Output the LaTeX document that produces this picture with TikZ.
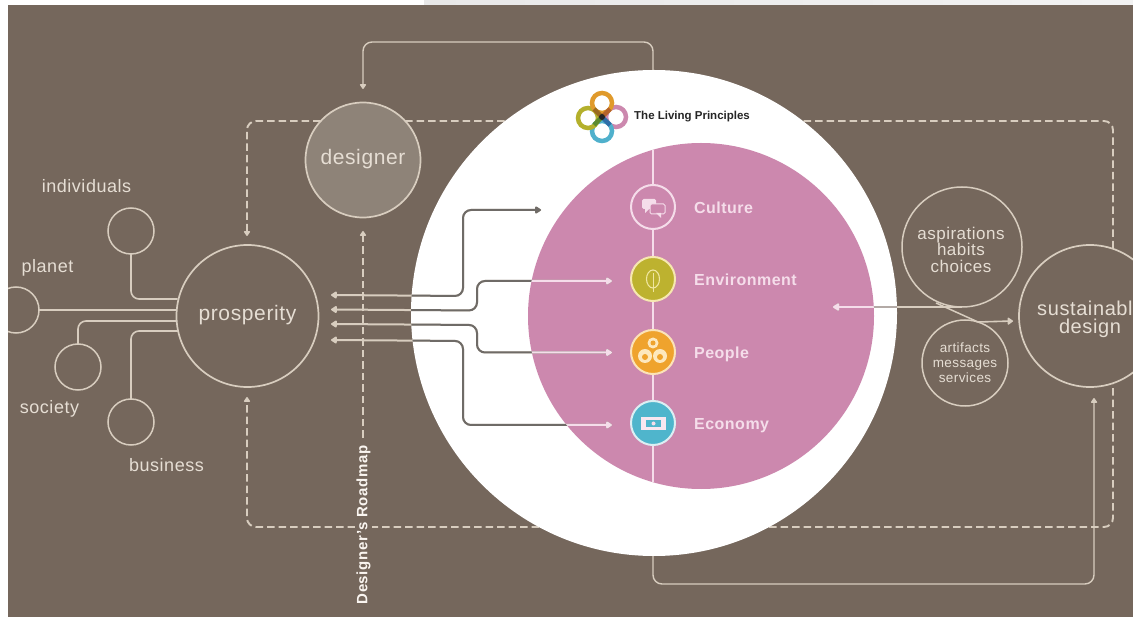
\documentclass[tikz,border=0pt]{standalone}
\usepackage{fontspec}
\setmainfont{Liberation Sans}
\newfontfamily\spaced[LetterSpace=3]{Liberation Sans}
\usetikzlibrary{arrows.meta}
\normallineskiplimit=-20pt
\lineskiplimit=-20pt
\definecolor{brownbg}{HTML}{75675C}
\definecolor{beige}{HTML}{D8CDBF}
\definecolor{txt}{HTML}{E6DED4}
\definecolor{pinkc}{HTML}{CC88AE}
\definecolor{palep}{HTML}{F5DDEA}
\definecolor{darkl}{HTML}{6F6B67}
\definecolor{midl}{HTML}{B3AAA6}
\definecolor{lteal}{HTML}{4FB0CC}
\definecolor{lolive}{HTML}{B4B02C}
\definecolor{lorange}{HTML}{E09A2B}
\definecolor{ovne}{HTML}{B5642B}
\definecolor{ovnw}{HTML}{9A6A20}
\definecolor{ovse}{HTML}{2E6EA8}
\definecolor{ovsw}{HTML}{5C8A2E}
\definecolor{envring}{HTML}{F6E8B0}
\definecolor{envfill}{HTML}{BDB22F}
\definecolor{envicon}{HTML}{F0E6A0}
\definecolor{pplring}{HTML}{FBE3B8}
\definecolor{pplfill}{HTML}{EFA32D}
\definecolor{pplicon}{HTML}{FDE8BE}
\definecolor{ecoring}{HTML}{DCEFF3}
\definecolor{ecofill}{HTML}{4FB5CC}
\definecolor{desfill}{HTML}{8E8378}
\pgfdeclarelayer{bg}\pgfdeclarelayer{under}
\pgfsetlayers{bg,under,main}
\newcommand{\tricolor}[3]{%
  \draw[arrowline,beige,#1] #3;
  \begin{scope}\clip (654,313) circle (243);\draw[arrowline,#2,#1] #3;\end{scope}
  \begin{scope}\clip (701,316) circle (173);\draw[arrowline,palep,#1] #3;\end{scope}
}
\tikzset{
  ring/.style={circle,draw=beige,line width=1.7pt,inner sep=0,outer sep=0,fill=brownbg},
  smallring/.style={circle,draw=beige,line width=1.5pt,inner sep=0,outer sep=0,minimum size=46pt},
  lab/.style={text=txt,font=\fontsize{18}{18}\selectfont\spaced,inner sep=0},
  bigtext/.style={text=txt,font=\fontsize{21}{21}\selectfont\spaced,inner sep=0},
  theme/.style={text=palep,font=\fontsize{16}{16}\selectfont\spaced\bfseries,inner sep=0,anchor=base west},
  badge/.style={circle,line width=2pt,inner sep=0,outer sep=0,minimum size=44pt},
  link/.style={draw=beige,line width=1.6pt,rounded corners=8pt},
  dashline/.style={draw=beige,line width=1.9pt,dash pattern=on 7.5pt off 4pt,rounded corners=9pt},
  thinline/.style={draw=beige,line width=1.4pt,rounded corners=9pt},
  arrowline/.style={line width=2pt,rounded corners=8pt},
  dottip/.style={-{Triangle[round,length=5.5pt,width=7pt]}},
  bothtip/.style={{Triangle[round,length=6.5pt,width=8pt]}-{Triangle[round,length=6.5pt,width=8pt]}},
  lefttip/.style={{Triangle[round,length=7pt,width=8pt]}-},
  logoring/.style={circle,line width=4.5pt,minimum size=20pt,inner sep=0},
}
\begin{document}
\begin{tikzpicture}[x=1pt,y=-1pt]
\useasboundingbox (0,0) rectangle (1133,617);
\begin{pgfonlayer}{bg}
\fill[white] (0,0) rectangle (1133,617);
\shade[left color=gray!18,right color=gray!10] (424,0) rectangle (1133,6);
\fill[brownbg] (8,5) rectangle (1133,617);
\end{pgfonlayer}

% main circles
\node[circle,fill=white,minimum size=486pt,inner sep=0,outer sep=0] (white) at (654,313) {};
\node[circle,fill=pinkc,minimum size=346pt,inner sep=0,outer sep=0] (pink) at (701,316) {};
\coordinate (pt) at (653,150); \coordinate (pb) at (653,482);
\draw[palep,line width=1.3pt] (pt) -- (pb);

% logo
\node[logoring,draw=pinkc] (lr) at (616,117) {};
\node[logoring,draw=lteal] (lb) at (602,131) {};
\node[logoring,draw=lolive] (ll) at (588,118) {};
\node[logoring,draw=lorange] (lt) at (602,103) {};
\coordinate (lc) at (602,117);
\coordinate (lne) at (610,109); \coordinate (lnw) at (594,109);
\coordinate (lse) at (610,125); \coordinate (lsw) at (594,125);
\draw[line width=4.5pt,ovne] (lc) -- (lne);
\draw[line width=4.5pt,ovnw] (lc) -- (lnw);
\draw[line width=4.5pt,ovse] (lc) -- (lse);
\draw[line width=4.5pt,ovsw] (lc) -- (lsw);
\fill[black!85] (lc) circle (3);
\node[anchor=west,inner sep=0,text=black!85,font=\fontsize{11.5}{12}\selectfont\bfseries] (logotext) at (634,117) {The Living Principles};

% badges
\node[badge,draw=palep,fill=pinkc] (culture) at (653,207) {};
\node[badge,draw=envring,fill=envfill] (env) at (653,279) {};
\node[badge,draw=pplring,fill=pplfill] (people) at (653,352) {};
\node[badge,draw=ecoring,fill=ecofill] (economy) at (653,423) {};
% icons
\fill[palep,rounded corners=1.5pt] (642,199) rectangle (656,209);
\fill[palep] (645,208) -- (645,213) -- (650,208) -- cycle;
\draw[palep,fill=pinkc,line width=1pt,rounded corners=1.5pt] (650,204) rectangle (665,214);
\fill[palep] (661,213) -- (661,218) -- (656,213) -- cycle;
\draw[envicon,line width=1.1pt] (653,279) ellipse (6.5 and 9);
\draw[envicon,line width=1pt] (653,273) -- (653,292);
\fill[pplicon] (653,343) circle (5.5) (645,356) circle (7) (660,356) circle (7);
\fill[pplfill] (653,343) circle (2.5) (645,357) circle (3) (660,357) circle (3);
\fill[palep!70!white] (641,417) rectangle (666,430);
\fill[ecofill] (646,420) rectangle (661,427);
\fill[palep] (653.5,423.5) circle (2);

\node[theme] (tculture) at (694,214) {Culture};
\node[theme] (tenv) at (694,286) {Environment};
\node[theme] (tpeople) at (694,359) {People};
\node[theme] (teco) at (694,430) {Economy};

% designer and prosperity
\node[ring,fill=desfill,minimum size=115pt] (designer) at (363,160) {};
\node[bigtext] (tdesigner) at (363,159) {designer};
\node[ring,minimum size=142pt] (prosperity) at (247.5,316) {};
\node[bigtext] (tprosperity) at (247.5,315.5) {prosperity};

% small circles
\begin{scope}
\clip (8,5) rectangle (1133,617);
\node[smallring] (planet) at (16,310) {};
\end{scope}
\node[smallring] (individuals) at (131,231) {};
\node[smallring] (society) at (78,367) {};
\node[smallring] (business) at (131,422) {};
\node[lab] (lindividuals) at (86.5,186) {individuals};
\node[lab] (lplanet) at (47.5,268) {planet};
\node[lab] (lsociety) at (49.5,409) {society};
\node[lab] (lbusiness) at (166.5,465) {business};

\coordinate (p1) at (177.5,299); \coordinate (p2) at (177,310);
\coordinate (p3) at (177,321); \coordinate (p4) at (178,331);
\draw[link] (individuals.south) |- (p1);
\draw[link] (planet.east) -- (p2);
\draw[link] (society.north) |- (p3);
\draw[link] (business.north) |- (p4);

% right circles
\node[ring,minimum size=142pt] (sustain) at (1090,316) {};
\node[text=txt,font=\fontsize{20}{20}\selectfont\spaced,inner sep=0,anchor=west] (tsustain) at (1037,308) {sustainabl};
\node[text=txt,font=\fontsize{20}{20}\selectfont\spaced,inner sep=0] (tdesign) at (1090,328.5) {design};
\node[circle,draw=beige,line width=1.5pt,minimum size=120pt,inner sep=0,outer sep=0] (asp) at (962,247) {};
\node[circle,draw=beige,line width=1.5pt,minimum size=86pt,inner sep=0,outer sep=0] (art) at (965,363) {};
\node[text=txt,align=center,inner sep=0,font=\fontsize{17}{16.5}\selectfont\spaced] (tasp) at (961,249.5) {aspirations\\habits\\choices};
\node[text=txt,align=center,inner sep=0,font=\fontsize{13.5}{15}\selectfont\spaced] (tart) at (965,363) {artifacts\\messages\\services};
\coordinate (sa) at (936,303); \coordinate (sb) at (978,322);
\draw[beige,line width=1.5pt] (sa) -- (sb);
\coordinate (ha) at (833,307); \coordinate (hb) at (962,307);
\tricolor{lefttip}{midl}{(ha) -- (hb)}
\coordinate (rb) at (1013,321);
\draw[beige,line width=1.6pt,-{Triangle[round,length=6pt,width=8pt]}] (sb) -- (rb);

% under layer connectors
\coordinate (tm) at (654,121); \coordinate (bm) at (654,527);
\coordinate (dl1) at (247,236); \coordinate (dl2) at (247,397);
\coordinate (dr) at (1113,316);
\coordinate (wtop) at (653,76); \coordinate (top1) at (653,42); \coordinate (top2) at (363,42); \coordinate (top3) at (363,89);
\coordinate (wbot) at (653,550); \coordinate (bot1) at (653,584); \coordinate (bot2) at (1094,584); \coordinate (bot3) at (1094,398);
\begin{pgfonlayer}{under}
\draw[dashline,dottip] (tm) -| (dl1);
\draw[dashline,dottip] (bm) -| (dl2);
\draw[dashline] (tm) -| (dr);
\draw[dashline] (bm) -| (dr);
\draw[thinline,dottip] (wtop) -- (top1) -- (top2) -- (top3);
\draw[thinline,dottip] (wbot) -- (bot1) -- (bot2) -- (bot3);
\end{pgfonlayer}

% arrows between prosperity and the themes
\coordinate (a1) at (331,295); \coordinate (a1b) at (463,296); \coordinate (a1c) at (463,210); \coordinate (a1d) at (541,210);
\coordinate (a2) at (331,309.5); \coordinate (a2b) at (477,310.5); \coordinate (a2c) at (477,281); \coordinate (a2d) at (612,281);
\coordinate (a3) at (331,324); \coordinate (a3b) at (477,325); \coordinate (a3c) at (477,352.5); \coordinate (a3d) at (612,352.5);
\coordinate (a4) at (331,340); \coordinate (a4b) at (463,341); \coordinate (a4c) at (463,425); \coordinate (a4d) at (612,425);
\tricolor{bothtip}{darkl}{(a1) -- (a1b) -- (a1c) -- (a1d)}
\tricolor{bothtip}{darkl}{(a2) -- (a2b) -- (a2c) -- (a2d)}
\tricolor{bothtip}{darkl}{(a3) -- (a3b) -- (a3c) -- (a3d)}
\tricolor{bothtip}{darkl}{(a4) -- (a4b) -- (a4c) -- (a4d)}

% roadmap
\coordinate (rm1) at (363,231); \coordinate (rm2) at (363,438);
\draw[dashline,dottip] (rm2) -- (rm1);
\node[rotate=90,fill=brownbg,inner sep=1pt,text=white!92!brown,font=\fontsize{15}{15}\selectfont\bfseries\addfontfeature{LetterSpace=4}] (road) at (363.5,525) {Designer's Roadmap};
\end{tikzpicture}
\end{document}
